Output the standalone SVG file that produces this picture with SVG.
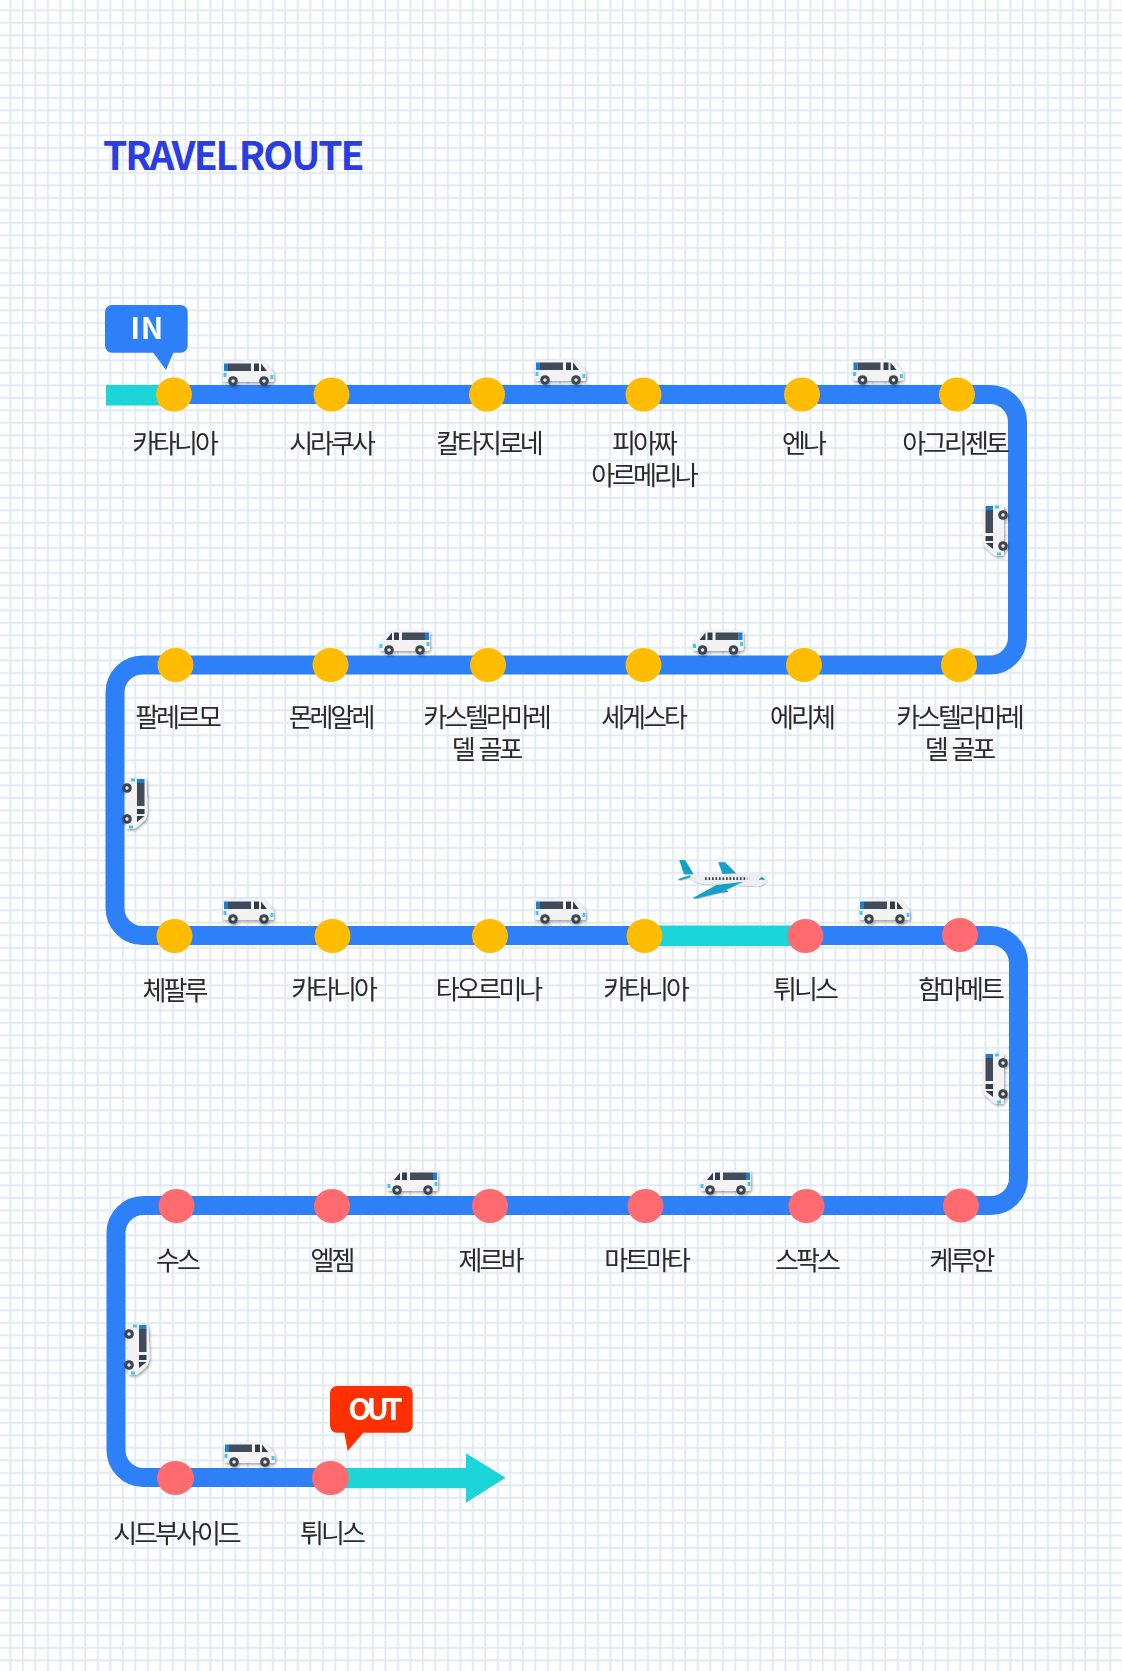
<svg xmlns="http://www.w3.org/2000/svg" xmlns:xlink="http://www.w3.org/1999/xlink" width="1122" height="1671" viewBox="0 0 1122 1671">
<style>
.l{font-family:"Noto Sans CJK KR","Noto Sans",sans-serif;font-size:26px;letter-spacing:-3px;word-spacing:3px;fill:#2a2a2c;text-anchor:middle}
.y{fill:#ffbc00}.r{fill:#ff6b6e}
.b{font-family:"Noto Sans CJK KR","Noto Sans",sans-serif;font-weight:700;fill:#fff;text-anchor:middle}
</style>
<defs>
<pattern id="grid" width="12.5" height="12.5" patternUnits="userSpaceOnUse" x="3.5" y="3.5">
<rect width="12.5" height="12.5" fill="#fff"/>
<rect x="6" width="1.8" height="12.5" fill="#dfe9f6"/>
<rect y="6" width="12.5" height="1.8" fill="#dfe9f6"/>
</pattern>
<filter id="sh" x="-5%" y="-5%" width="110%" height="110%"><feDropShadow dx="1" dy="1.500" stdDeviation="1.500" flood-color="#000" flood-opacity="0.4"/></filter>
<g id="van">
<path d="M0,4 Q0,1 3,0.500 L34,-0.500 Q39,-0.500 42,2 L50,11 Q51,13 51,19 Q51,21 48,21 L2,21 Q0,21 0,18Z" fill="#f3f3f5"/>
<rect x="1" y="2.500" width="4" height="7.500" fill="#1f7fd0"/>
<rect x="5" y="2.500" width="23" height="7.500" fill="#424c5a"/>
<path d="M31,2.500H36V10H31Z" fill="#333c48"/>
<path d="M38,2.500L44,10H38Z" fill="#333c48"/>
<rect x="0.500" y="12" width="3" height="4" fill="#48c8e6"/>
<rect x="47.500" y="14" width="3" height="4" fill="#48c8e6"/>
<circle cx="10" cy="20" r="4.800" fill="#3c4450"/><circle cx="10" cy="20" r="1.800" fill="#e8e8e8"/>
<circle cx="41" cy="20" r="4.800" fill="#3c4450"/><circle cx="41" cy="20" r="1.800" fill="#e8e8e8"/>
</g>
</defs>
<rect id="background" width="1122" height="1671" fill="url(#grid)"/>
<text id="title" x="103" y="170" font-family="'Noto Sans CJK KR','Noto Sans',sans-serif" font-weight="700" font-size="39" letter-spacing="-2.100" word-spacing="-4" fill="#2a3de0">TRAVEL ROUTE</text>

<g id="connectors">
<path d="M106,394.500H990A27.500,27.500 0 0 1 1017.500,422V637.500A27.500,27.500 0 0 1 990,665H142.500A27.500,27.500 0 0 0 115,692.500V908A27.500,27.500 0 0 0 142.500,935.500H991A27.500,27.500 0 0 1 1018.500,963V1178A27.500,27.500 0 0 1 991,1205.500H143.500A27.500,27.500 0 0 0 116,1233V1450A27.500,27.500 0 0 0 143.500,1477.500H335" fill="none" stroke="#2d80f8" stroke-width="19"/>
<rect x="106" y="385" width="68" height="20.500" fill="#1bd5d8"/>
<rect x="645" y="925.500" width="161" height="20.500" fill="#1bd5d8"/>
<path d="M330,1468H466V1453.300L505.700,1477.700L466,1502.700V1488.300H330Z" fill="#1bd5d8"/>
</g>

<g id="vehicles" filter="url(#sh)">
<use xlink:href="#van" transform="translate(223,361)"/>
<use xlink:href="#van" transform="translate(535,360)"/>
<use xlink:href="#van" transform="translate(852.500,360)"/>
<use xlink:href="#van" transform="matrix(-1,0,0,1,430,630)"/>
<use xlink:href="#van" transform="matrix(-1,0,0,1,743.500,630)"/>
<use xlink:href="#van" transform="translate(223,899)"/>
<use xlink:href="#van" transform="translate(535,899)"/>
<use xlink:href="#van" transform="translate(859,899)"/>
<use xlink:href="#van" transform="matrix(-1,0,0,1,438,1170)"/>
<use xlink:href="#van" transform="matrix(-1,0,0,1,751,1170)"/>
<use xlink:href="#van" transform="translate(224,1442)"/>
<use xlink:href="#van" transform="matrix(0,1,1,0,983,505)"/>
<use xlink:href="#van" transform="matrix(0,1,-1,0,147,778)"/>
<use xlink:href="#van" transform="matrix(0,1,1,0,983,1053)"/>
<use xlink:href="#van" transform="matrix(0,1,-1,0,149,1324)"/>
</g>

<g id="plane" transform="translate(660,840) scale(0.3333)" filter="url(#sh)">
<path d="M58,60L75,60L100,102L72,102Z" fill="#12a0c8"/>
<path d="M175,67L195,67L230,102L188,102Z" fill="#12a0c8"/>
<path d="M78,106L290,98Q315,103 322,120Q315,135 295,139L130,132Q95,127 78,106Z" fill="#eceef1"/>
<path d="M52,118L90,106L92,112L62,120Z" fill="#12a0c8"/>
<path d="M97,175L170,135L250,125L185,155L200,150L205,155L180,158L110,175Z" fill="#12a0c8"/>
<path d="M135,116H262" stroke="#36404c" stroke-width="8" stroke-dasharray="5,5.500" fill="none"/>
<path d="M296,119Q305,105 315,119Z" fill="#12a0c8"/>
</g>

<g id="bubble-in">
<path d="M112,305H180.700A7,7 0 0 1 187.700,312V345.700A7,7 0 0 1 180.700,352.700H173.300L166,370L153.300,352.700H112A7,7 0 0 1 105,345.700V312A7,7 0 0 1 112,305Z" fill="#2d80f8"/>
<text class="b" x="147" y="339" font-size="30" letter-spacing="0.500">IN</text>
</g>
<g id="bubble-out">
<path d="M337,1386H405.700A7,7 0 0 1 412.700,1393V1425.700A7,7 0 0 1 405.700,1432.700H363.300L347.700,1451L344.300,1432.700H337A7,7 0 0 1 330,1425.700V1393A7,7 0 0 1 337,1386Z" fill="#ff3000"/>
<text class="b" x="373" y="1420" font-size="30" letter-spacing="-5">OUT</text>
</g>

<g id="n1"><ellipse class="y" cx="174" cy="394.500" rx="18" ry="17"/><text class="l" x="174" y="453">카타니아</text></g>
<g id="n2"><ellipse class="y" cx="331.500" cy="394.500" rx="18" ry="17"/><text class="l" x="331" y="453">시라쿠사</text></g>
<g id="n3"><ellipse class="y" cx="487" cy="394.500" rx="18" ry="17"/><text class="l" x="488.500" y="453">칼타지로네</text></g>
<g id="n4"><ellipse class="y" cx="643.500" cy="394.500" rx="18" ry="17"/><text class="l" x="643.500" y="453">피아짜</text><text class="l" x="643.500" y="485">아르메리나</text></g>
<g id="n5"><ellipse class="y" cx="802" cy="394.500" rx="18" ry="17"/><text class="l" x="803" y="453">엔나</text></g>
<g id="n6"><ellipse class="y" cx="957" cy="394.500" rx="18" ry="17"/><text class="l" x="954.500" y="453">아그리젠토</text></g>

<g id="n7"><ellipse class="y" cx="175.500" cy="665" rx="18" ry="17"/><text class="l" x="177" y="727">팔레르모</text></g>
<g id="n8"><ellipse class="y" cx="330.500" cy="665" rx="18" ry="17"/><text class="l" x="330.500" y="727">몬레알레</text></g>
<g id="n9"><ellipse class="y" cx="488" cy="665" rx="18" ry="17"/><text class="l" x="486" y="727">카스텔라마레</text><text class="l" x="486" y="759">델 골포</text></g>
<g id="n10"><ellipse class="y" cx="643.500" cy="665" rx="18" ry="17"/><text class="l" x="643" y="727">세게스타</text></g>
<g id="n11"><ellipse class="y" cx="804" cy="665" rx="18" ry="17"/><text class="l" x="801.500" y="727">에리체</text></g>
<g id="n12"><ellipse class="y" cx="959" cy="665" rx="18" ry="17"/><text class="l" x="959" y="727">카스텔라마레</text><text class="l" x="959" y="759">델 골포</text></g>

<g id="n13"><ellipse class="y" cx="174.500" cy="936" rx="18" ry="17"/><text class="l" x="174" y="1000">체팔루</text></g>
<g id="n14"><ellipse class="y" cx="332.500" cy="936" rx="18" ry="17"/><text class="l" x="333" y="999">카타니아</text></g>
<g id="n15"><ellipse class="y" cx="490" cy="936" rx="18" ry="17"/><text class="l" x="488" y="999">타오르미나</text></g>
<g id="n16"><ellipse class="y" cx="644.500" cy="936" rx="18" ry="17"/><text class="l" x="645" y="999">카타니아</text></g>
<g id="n17"><ellipse class="r" cx="805.500" cy="936" rx="18" ry="17"/><text class="l" x="804.500" y="999">튀니스</text></g>
<g id="n18"><ellipse class="r" cx="960" cy="935" rx="18" ry="17"/><text class="l" x="960" y="999">함마메트</text></g>

<g id="n19"><ellipse class="r" cx="176.500" cy="1206" rx="18" ry="17"/><text class="l" x="177" y="1270">수스</text></g>
<g id="n20"><ellipse class="r" cx="332" cy="1206" rx="18" ry="17"/><text class="l" x="331.500" y="1270">엘젬</text></g>
<g id="n21"><ellipse class="r" cx="490" cy="1206" rx="18" ry="17"/><text class="l" x="490" y="1270">제르바</text></g>
<g id="n22"><ellipse class="r" cx="645.500" cy="1206" rx="18" ry="17"/><text class="l" x="646" y="1270">마트마타</text></g>
<g id="n23"><ellipse class="r" cx="806.500" cy="1206" rx="18" ry="17"/><text class="l" x="806.500" y="1270">스팍스</text></g>
<g id="n24"><ellipse class="r" cx="961" cy="1205.500" rx="18" ry="17"/><text class="l" x="961" y="1270">케루안</text></g>

<g id="n25"><ellipse class="r" cx="175.500" cy="1478" rx="18.500" ry="17"/><text class="l" x="176" y="1543">시드부사이드</text></g>
<g id="n26"><ellipse class="r" cx="330.500" cy="1478" rx="18.500" ry="17"/><text class="l" x="331.500" y="1543">튀니스</text></g>
</svg>
